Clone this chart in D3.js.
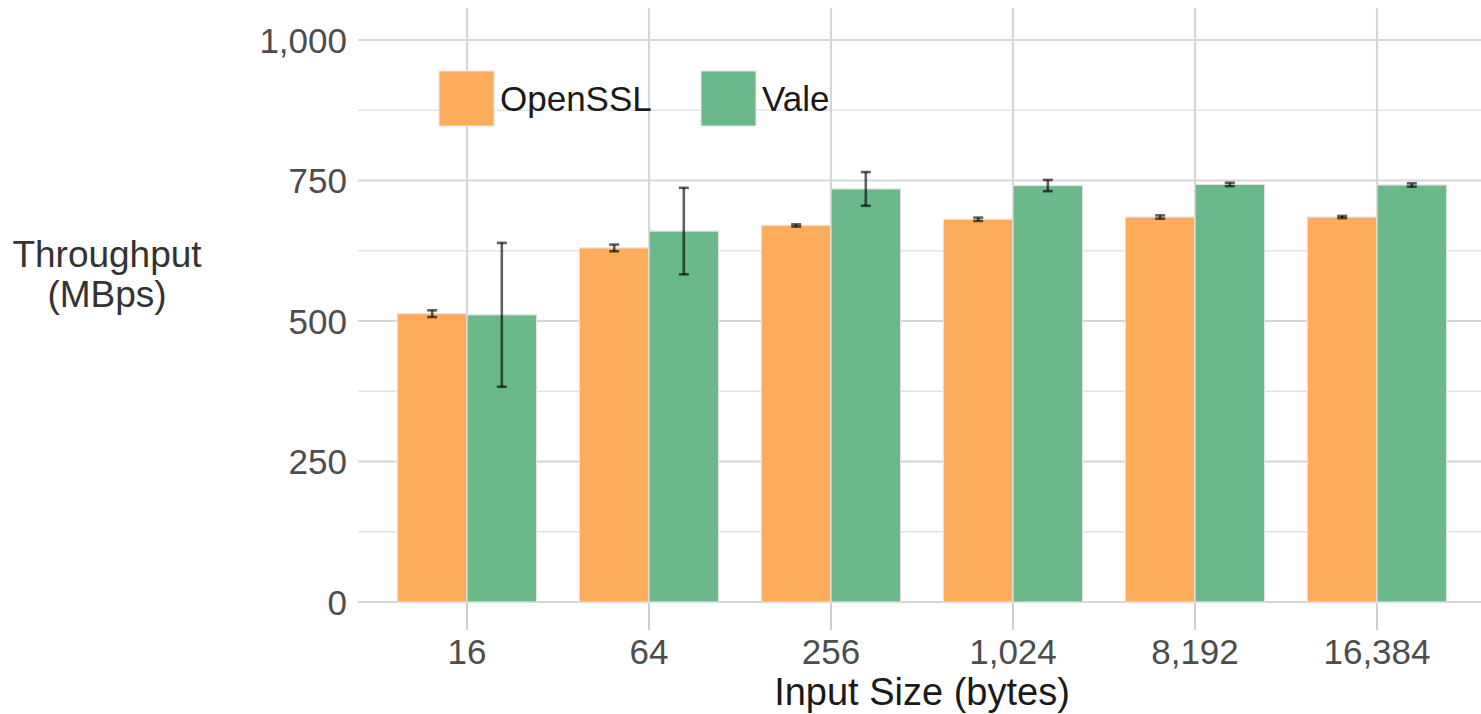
<!DOCTYPE html>
<html>
<head>
<meta charset="utf-8">
<script src="https://cdn.jsdelivr.net/npm/d3@7"></script>
<style>
  html, body { margin: 0; padding: 0; background: #fff; }
  svg { display: block; font-family: "Liberation Sans", Arial, Helvetica, sans-serif; }
</style>
</head>
<body>
<svg id="chart" width="1481" height="714"></svg>
<script>
// ---- data ----
const categories = ["16", "64", "256", "1,024", "8,192", "16,384"];
const seriesNames = ["OpenSSL", "Vale"];
const opensslValues = [513, 630, 670, 681, 685, 685];
const opensslErrors = [6, 6, 2, 3, 3, 2];
const valeValues = [511, 660, 735, 741, 743, 742];
const valeErrors = [128, 77, 30, 10, 3, 3];
const yTicks = [0, 250, 500, 750, 1000];
const yMinorTicks = [125, 375, 625, 875];
const colors = ["#fdac5b", "#6bb98b"];

const svg = d3.select("#chart");
const panel = { left: 358, right: 1481, top: 8, bottom: 602 };

const x = d3.scalePoint().domain(categories).range([467, 1377]);
const step = x.step();
const groupW = step * 0.765;
const xSub = d3.scaleBand().domain(seriesNames).range([-groupW / 2, groupW / 2]).padding(0);
const y = d3.scaleLinear().domain([0, 1000]).range([602, 40]);
const color = d3.scaleOrdinal().domain(seriesNames).range(colors);
const fmt = d3.format(",");

// grid
const grid = svg.append("g");
grid.selectAll("line.minor").data(yMinorTicks).enter().append("line")
  .attr("x1", panel.left).attr("x2", panel.right)
  .attr("y1", d => y(d)).attr("y2", d => y(d))
  .attr("stroke", "#e3e3e3").attr("stroke-width", 1.6);
grid.selectAll("line.major").data(yTicks).enter().append("line")
  .attr("x1", panel.left).attr("x2", panel.right)
  .attr("y1", d => y(d)).attr("y2", d => y(d))
  .attr("stroke", "#d6d6d6").attr("stroke-width", 2.2);
grid.selectAll("line.v").data(categories).enter().append("line")
  .attr("x1", d => x(d)).attr("x2", d => x(d))
  .attr("y1", panel.top).attr("y2", panel.bottom)
  .attr("stroke", "#d6d6d6").attr("stroke-width", 2.2);

// x ticks
svg.append("g").selectAll("line").data(categories).enter().append("line")
  .attr("x1", d => x(d)).attr("x2", d => x(d))
  .attr("y1", 602).attr("y2", 630)
  .attr("stroke", "#cfcfcf").attr("stroke-width", 2);

// bars
const rows = [];
categories.forEach((c, i) => {
  rows.push({ cat: c, series: "OpenSSL", v: opensslValues[i], e: opensslErrors[i] });
  rows.push({ cat: c, series: "Vale", v: valeValues[i], e: valeErrors[i] });
});

svg.append("g").selectAll("rect").data(rows).enter().append("rect")
  .attr("x", d => x(d.cat) + xSub(d.series))
  .attr("width", xSub.bandwidth())
  .attr("y", d => y(d.v))
  .attr("height", d => y(0) - y(d.v))
  .attr("fill", d => color(d.series))
  .attr("stroke", "#e2e2e2").attr("stroke-width", 1.2);

// error bars
const eb = svg.append("g").attr("stroke", "#000").attr("stroke-opacity", 0.62).attr("stroke-width", 2.6);
rows.forEach(d => {
  const cx = x(d.cat) + xSub(d.series) + xSub.bandwidth() / 2;
  const hw = 5;
  eb.append("line").attr("x1", cx).attr("x2", cx).attr("y1", y(d.v + d.e)).attr("y2", y(d.v - d.e));
  eb.append("line").attr("x1", cx - hw).attr("x2", cx + hw).attr("y1", y(d.v + d.e)).attr("y2", y(d.v + d.e));
  eb.append("line").attr("x1", cx - hw).attr("x2", cx + hw).attr("y1", y(d.v - d.e)).attr("y2", y(d.v - d.e));
});

// y tick labels
svg.append("g").selectAll("text").data(yTicks).enter().append("text")
  .attr("x", 347).attr("y", d => y(d) + 12.5)
  .attr("text-anchor", "end")
  .attr("font-size", 35).attr("fill", "#4d4d4d")
  .text(d => fmt(d));

// x tick labels
svg.append("g").selectAll("text").data(categories).enter().append("text")
  .attr("x", d => x(d)).attr("y", 664)
  .attr("text-anchor", "middle")
  .attr("font-size", 35).attr("fill", "#4d4d4d")
  .text(d => d);

// axis titles
svg.append("text").attr("x", 922).attr("y", 705).attr("text-anchor", "middle")
  .attr("font-size", 38).attr("fill", "#1a1a1a").text("Input Size (bytes)");
const yt = svg.append("text").attr("text-anchor", "middle").attr("font-size", 37).attr("fill", "#333");
yt.append("tspan").attr("x", 107).attr("y", 267).text("Throughput");
yt.append("tspan").attr("x", 107).attr("y", 307).text("(MBps)");

// legend
const legendX = [439, 701];
const lg = svg.append("g").selectAll("g").data(seriesNames).enter().append("g")
  .attr("transform", (d, i) => `translate(${legendX[i]},71)`);
lg.append("rect").attr("width", 55).attr("height", 55)
  .attr("fill", d => color(d)).attr("stroke", "#e6e6e6").attr("stroke-width", 1);
lg.append("text").attr("x", 61).attr("y", 40).attr("font-size", 35).attr("fill", "#1a1a1a")
  .text(d => d);
</script>
</body>
</html>
